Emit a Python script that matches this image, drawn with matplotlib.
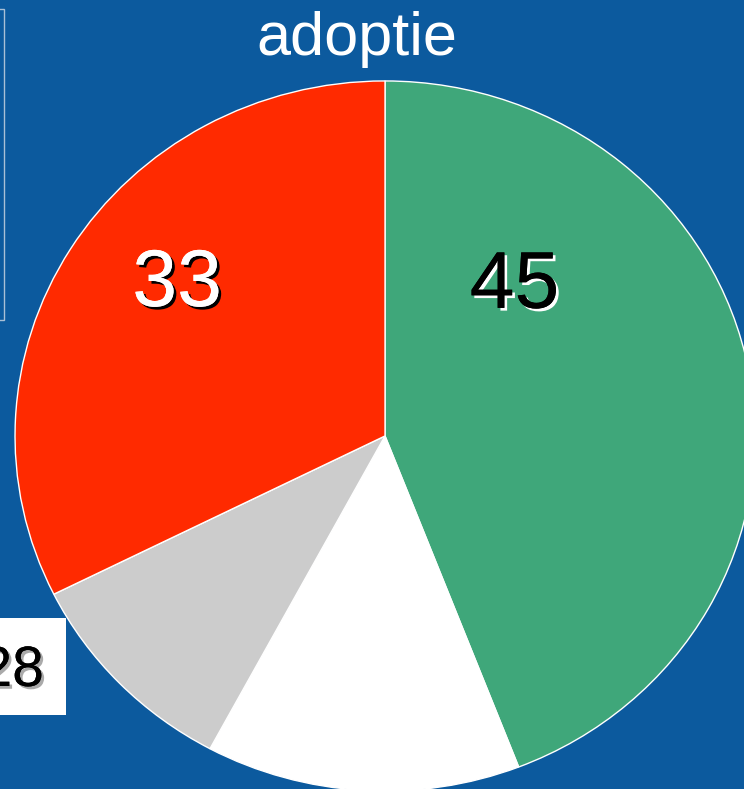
import matplotlib.pyplot as plt
from matplotlib.patches import Rectangle
import matplotlib.patheffects as pe

plt.rcParams['font.family'] = ['Liberation Sans', 'DejaVu Sans']

# data
labels = ["ja", "nee", "weet niet", "anders"]
waarden = [45, 14, 10, 33]
kleuren = ["#3FA77A", "#FFFFFF", "#CCCCCC", "#FF2A00"]
titel = "adoptie"
bg = "#0C5A9E"

fig = plt.figure(figsize=(7.44, 7.89), dpi=100, facecolor=bg)

# pie
ax = fig.add_axes([0.0202, -0.0025, 0.9946, 0.8999])
ax.set_facecolor("none")
ax.pie(waarden, colors=kleuren, startangle=90, counterclock=False,
       wedgeprops=dict(edgecolor="white", linewidth=1))
ax.set_aspect("auto")
ax.set_xlim(-1, 1)
ax.set_ylim(-1, 1)
ax.axis("off")

# waarde labels
ax.text(0.35, 0.42, str(waarden[0]), fontsize=58, color="black", ha="center", va="center",
        path_effects=[pe.withSimplePatchShadow(offset=(2, -2), shadow_rgbFace="white", alpha=1), pe.Normal()])
ax.text(-0.562, 0.425, str(waarden[3]), fontsize=58, color="white", ha="center", va="center",
        path_effects=[pe.withSimplePatchShadow(offset=(2, -2), shadow_rgbFace="black", alpha=1), pe.Normal()])

# titel
fig.text(357 / 744, 1 - 55 / 789, titel, fontsize=44, color="white", ha="center", va="baseline")

# afgesneden kader links
fig.add_artist(Rectangle((-0.01, 1 - 320 / 789), 4.5 / 744 + 0.01, 311 / 789,
                         transform=fig.transFigure, fill=False, edgecolor="#A9C0D6", linewidth=1))

# wit label "28" (links afgesneden, zoals in het origineel)
fig.add_artist(Rectangle((0, 1 - 715 / 789), 66 / 744, 97 / 789,
                         transform=fig.transFigure, facecolor="white", edgecolor="none"))
fig.text(44 / 744, 1 - 686 / 789, "28", fontsize=41, color="black", ha="right", va="baseline",
         path_effects=[pe.withSimplePatchShadow(offset=(2, -2), shadow_rgbFace="#AAAAAA", alpha=1), pe.Normal()])

fig.savefig("out.png", dpi=100, facecolor=bg)
